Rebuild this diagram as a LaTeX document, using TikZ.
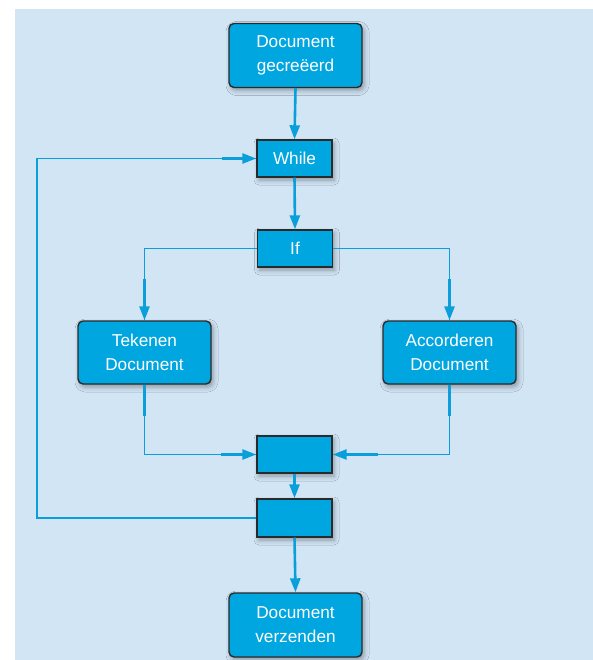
\documentclass[tikz,border=0pt]{standalone}
\usepackage{fontspec}
\setmainfont{Liberation Sans}
\usetikzlibrary{arrows.meta,shadows.blur}
\definecolor{bgblue}{HTML}{D2E5F5}
\definecolor{boxblue}{HTML}{00A6E0}
\definecolor{lineblue}{HTML}{0A9FDB}
\definecolor{edge}{HTML}{2A2A2A}
\tikzset{
  box/.style={draw=edge, line width=1.4pt, fill=boxblue, text=white, align=center,
    inner sep=0pt, font=\fontsize{17.2}{24}\selectfont,
    blur shadow={shadow xshift=2pt, shadow yshift=-3pt, shadow opacity=35, shadow blur radius=5pt}},
  bigbox/.style={box, rounded corners=5pt, minimum width=133pt, minimum height=64pt},
  smallbox/.style={box, minimum width=75pt, minimum height=37pt},
  main/.style={draw=lineblue, line width=2.6pt, -{Triangle[length=14pt,width=10pt]}},
  thin/.style={draw=lineblue, line width=1.8pt},
  tip/.style={draw=lineblue, line width=2.6pt, -{Triangle[length=14pt,width=10pt]}},
  seg/.style={draw=lineblue, line width=2.6pt},
}
\begin{document}
\begin{tikzpicture}[x=1pt,y=-1pt]
\useasboundingbox (0,0) rectangle (593,660);
\fill[bgblue] (15,9) rectangle (593,660);

\node[bigbox] (gec) at (295.5,55.5) {Document\\gecreëerd};
\node[smallbox] (while) at (294.5,158.5) {While};
\node[smallbox] (if) at (295,248.5) {If};
\node[bigbox, minimum height=63pt] (tek) at (144.5,352.5) {Tekenen\\Document};
\node[bigbox, minimum height=63pt] (acc) at (449.5,352.5) {Accorderen\\Document};
\node[smallbox] (e1) at (294.5,454.5) {};
\node[smallbox, minimum height=38pt] (e2) at (294.5,518) {};
\node[bigbox] (ver) at (295.5,625) {Document\\verzenden};

\coordinate (tekin) at (tek.north |- if.west);
\coordinate (accin) at (acc.north |- if.east);
\coordinate (tekout) at (tek.south |- e1.west);
\coordinate (accout) at (acc.south |- e1.east);
\coordinate (loopb) at (37,0 |- e2.west);
\coordinate (loopt) at (37,0 |- while.west);

% main verticals
\draw[main] (gec.south) -- (while.north);
\draw[main] (while.south) -- (if.north);
\draw[main] (e1.south) -- (e2.north);
\draw[main] (e2.south) -- (ver.north);

% If branches
\draw[thin] (if.west) -- (tekin) -- (tek.north);
\draw[tip] ([yshift=41pt]tek.north) -- (tek.north);
\draw[thin] (if.east) -- (accin) -- (acc.north);
\draw[tip] ([yshift=41pt]acc.north) -- (acc.north);

% merges
\draw[thin] (tek.south) -- (tekout) -- (e1.west);
\draw[seg] (tek.south) -- ([yshift=-31pt]tek.south);
\draw[tip] ([xshift=-35pt]e1.west) -- (e1.west);
\draw[thin] (acc.south) -- (accout) -- (e1.east);
\draw[seg] (acc.south) -- ([yshift=-31pt]acc.south);
\draw[tip] ([xshift=45pt]e1.east) -- (e1.east);

% loop back
\draw[thin] (e2.west) -- (loopb) -- (loopt) -- (while.west);
\draw[seg] (e2.west) -- ([xshift=-20pt]e2.west);
\draw[tip] ([xshift=-34pt]while.west) -- (while.west);
\end{tikzpicture}
\end{document}
